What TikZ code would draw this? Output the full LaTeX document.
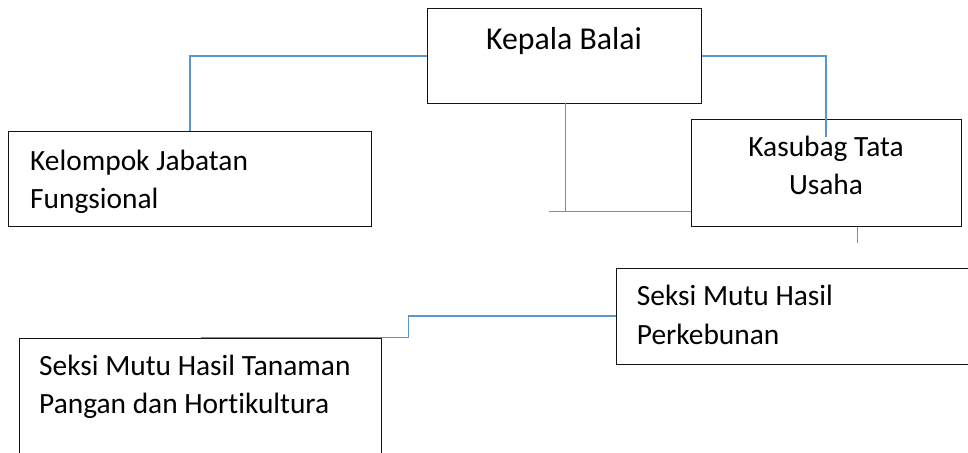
\documentclass[tikz,border=0pt]{standalone}
\usepackage{fontspec}
\setmainfont{Carlito}[Ligatures=NoCommon]
\definecolor{linkblue}{RGB}{91,150,212}
\definecolor{boxline}{RGB}{20,20,20}
\begin{document}
\begin{tikzpicture}[x=1pt,y=-1pt,
  box/.style={draw=boxline, line width=1.3pt, rectangle, inner sep=0pt, anchor=north west},
  conn/.style={draw=linkblue, line width=1.6pt},
  big/.style={inner sep=0pt, font=\fontsize{31.8}{36}\selectfont},
  lbl/.style={inner sep=0pt, font=\fontsize{29.4}{34}\selectfont},
]
\useasboundingbox (0,0) rectangle (968,452);
\fill[white] (0,0) rectangle (968,452);

% boxes
\node[box, minimum width=274pt, minimum height=95pt] (kb) at (427,8) {};
\node[box, minimum width=270pt, minimum height=107pt] (kt) at (691,119) {};
\node[box, minimum width=363pt, minimum height=95pt] (kj) at (8,131) {};
\node[box, minimum width=370pt, minimum height=96pt] (sp) at (616,267.5) {};
\node[box, minimum width=362pt, minimum height=140pt] (st) at (18.5,337.5) {};

% texts
\node[big, anchor=base] (kbt) at (564,49.3) {Kepala Balai};
\node[lbl, anchor=base] (ktt1) at (826,156.7) {Kasubag Tata};
\node[lbl, anchor=base] (ktt2) at (826,194.3) {Usaha};
\node[lbl, anchor=base west] (kjt1) at (30,170) {Kelompok Jabatan};
\node[lbl, anchor=base west] (kjt2) at (30,208) {Fungsional};
\node[lbl, anchor=base west] (spt1) at (636.7,305) {Seksi Mutu Hasil};
\node[lbl, anchor=base west] (spt2) at (636.7,344.3) {Perkebunan};
\node[lbl, anchor=base west] (stt1) at (39,375.7) {Seksi Mutu Hasil Tanaman};
\node[lbl, anchor=base west] (stt2) at (39,413.3) {Pangan dan Hortikultura};

% free-end coordinates
\coordinate (ktin) at (826,137);
\coordinate (j1) at (549,211.5);
\coordinate (kbdown) at (565.5,103);
\coordinate (ktdown) at (857.5,242.7);
\coordinate (bend) at (408.5,337.5);
\coordinate (stend) at (200.5,337.5);

% connectors
\draw[conn] (kb.west) -| (kj.north);
\draw[conn] (kb.east) -| (ktin);
\draw[conn] (kbdown) -- (kbdown |- j1);
\draw[conn] (j1) -- (kt.west |- j1);
\draw[conn] (kt.south -| ktdown) -- (ktdown);
\draw[conn] (sp.west) -| (bend) -- (stend);
\end{tikzpicture}
\end{document}
